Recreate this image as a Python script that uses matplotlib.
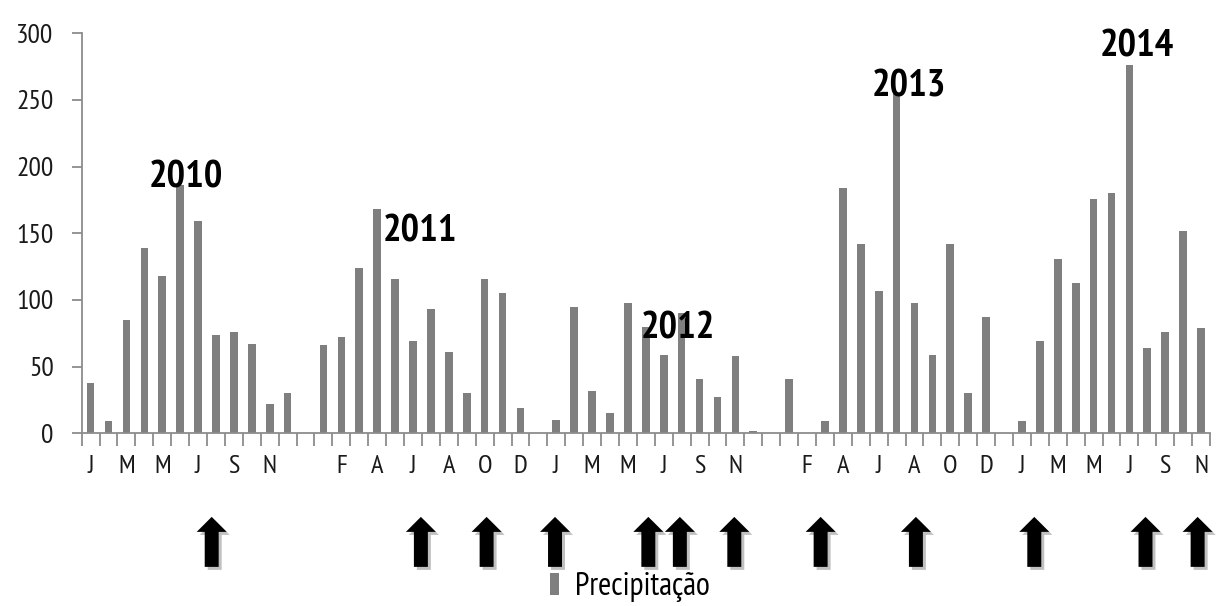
import matplotlib
matplotlib.use("Agg")
import matplotlib.pyplot as plt
import matplotlib.transforms as mtransforms
from matplotlib.patches import FancyArrow
import numpy as np

plt.rcParams["font.family"] = ["PT Sans Narrow", "DejaVu Sans"]

# monthly rainfall, Jan..Dec
rain_2010 = [38, 9, 85, 139, 118, 186, 159, 74, 76, 67, 22, 30]
rain_2011 = [66, 72, 124, 168, 116, 69, 93, 61, 30, 116, 105, 19]
rain_2012 = [10, 95, 32, 15, 98, 80, 59, 90, 41, 27, 58, 2]
rain_2013 = [41, 0, 9, 184, 142, 107, 255, 98, 59, 142, 30, 87]
rain_2014 = [9, 69, 131, 113, 176, 180, 276, 64, 76, 152, 79]  # Jan..Nov only

month_initials = ["J", "F", "M", "A", "M", "J", "J", "A", "S", "O", "N", "D"]
years = ["2010", "2011", "2012", "2013", "2014"]

# arrows under the axis (category position)
arrow_x = [6.76, 18.44, 22.11, 25.93, 31.14, 32.9, 35.94, 40.76, 46.08, 52.69, 58.9, 61.81]

# build category sequence, one empty slot between years
values = []
labels = []
for i, yr in enumerate([rain_2010, rain_2011, rain_2012, rain_2013, rain_2014]):
    if i > 0:
        values.append(0)
        labels.append("")
    values.extend(yr)
    labels.extend(month_initials[:len(yr)])

x = np.arange(len(values))

fig = plt.figure(figsize=(12.19, 6.06), dpi=100)
ax = fig.add_axes([0.067, 0.285, 0.9926 - 0.067, 0.945 - 0.285])

ax.bar(x, values, width=0.43, color="#7f7f7f", label="Precipitação")
ax.set_xlim(-0.5, len(values) - 0.5)
ax.set_ylim(0, 300)
ax.set_yticks(range(0, 301, 50))

for s in ["top", "right"]:
    ax.spines[s].set_visible(False)
for s in ["left", "bottom"]:
    ax.spines[s].set_color("#8c8c8c")
    ax.spines[s].set_linewidth(1.3)

ax.tick_params(axis="y", direction="out", length=7.2, width=1.3, color="#8c8c8c",
               labelsize=20, pad=13, labelcolor="#1a1a1a")

# labels on every other month, ticks on category boundaries
ax.set_xticks(x[::2])
ax.set_xticklabels([labels[i] for i in x[::2]], va="center")
ax.set_xticks(np.arange(-0.5, len(values), 1), minor=True)
ax.tick_params(axis="x", which="minor", direction="out", length=9.4, width=1.3, color="#8c8c8c")
ax.tick_params(axis="x", which="major", length=0, labelsize=19, pad=24, labelcolor="#1a1a1a")

# year labels
year_pos = [(5.32, 191.5), (18.39, 151), (32.8, 78), (45.7, 260), (58.4, 290)]
for yr, (xp, yp) in zip(years, year_pos):
    ax.text(xp, yp, yr, fontsize=28, fontweight="bold", ha="center", va="center", color="black")

# arrows with drop shadow
trans = mtransforms.blended_transform_factory(ax.transData, ax.transAxes)
shadow = mtransforms.offset_copy(trans, fig=fig, x=3, y=-3, units="dots")
for xa in arrow_x:
    for tr, col in [(shadow, "#c0c0c0"), (trans, "black")]:
        ax.add_patch(FancyArrow(xa, -0.334, 0, 0.125, width=0.78, head_width=1.675,
                                head_length=0.0375, length_includes_head=True,
                                transform=tr, color=col, lw=0, clip_on=False))

fig.legend(loc="center", bbox_to_anchor=(630 / 1219, 1 - 587 / 606), frameon=False,
           fontsize=23, handlelength=0.27, handleheight=0.7, handletextpad=0.5)

fig.savefig("out.png", dpi=100)
